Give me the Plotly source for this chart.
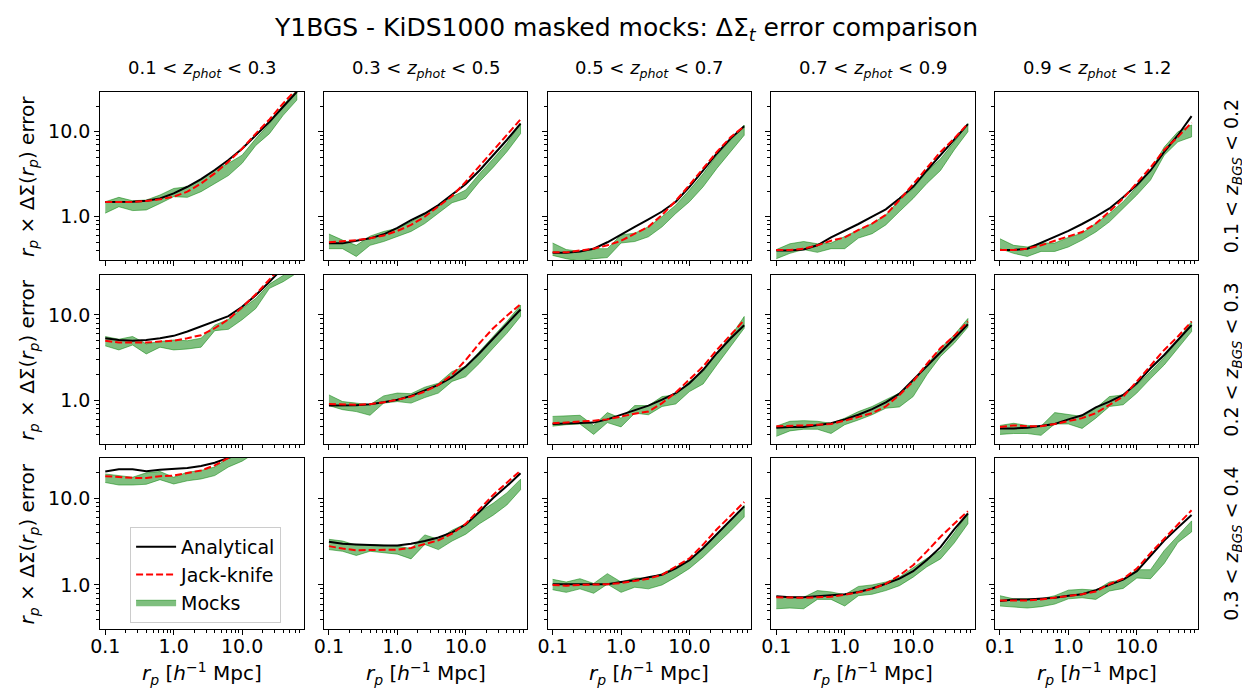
import plotly.graph_objects as go

rp = [0.1, 0.158, 0.251, 0.398, 0.631, 1.0, 1.585, 2.512, 3.981, 6.31, 10.0, 15.85, 25.12, 39.81, 63.1]

col_labels = ["0.1 < <i>z</i><sub><i>phot</i></sub> < 0.3", "0.3 < <i>z</i><sub><i>phot</i></sub> < 0.5",
              "0.5 < <i>z</i><sub><i>phot</i></sub> < 0.7", "0.7 < <i>z</i><sub><i>phot</i></sub> < 0.9",
              "0.9 < <i>z</i><sub><i>phot</i></sub> < 1.2"]
row_labels = ["0.1 < <i>z</i><sub><i>BGS</i></sub> < 0.2", "0.2 < <i>z</i><sub><i>BGS</i></sub> < 0.3",
              "0.3 < <i>z</i><sub><i>BGS</i></sub> < 0.4"]
x_ticks = [0.1, 1, 10]
x_tick_text = ["0.1", "1.0", "10.0"]
y_ticks = [1, 10]
y_tick_text = ["1.0", "10.0"]

# ---- row 1: 0.1 < z_BGS < 0.2 ----
ana_r1 = [
    [1.49, 1.49, 1.5, 1.54, 1.64, 1.88, 2.25, 2.77, 3.54, 4.65, 6.3, 9.1, 13.1, 19.7, 29.5],
    [0.485, 0.485, 0.52, 0.556, 0.62, 0.74, 0.91, 1.09, 1.37, 1.8, 2.42, 3.5, 5.3, 8.0, 12.5],
    [0.377, 0.377, 0.39, 0.42, 0.5, 0.61, 0.76, 0.93, 1.15, 1.5, 2.25, 3.5, 5.55, 8.3, 11.6],
    [0.40, 0.40, 0.41, 0.46, 0.57, 0.68, 0.82, 1.0, 1.22, 1.64, 2.25, 3.5, 5.3, 8.0, 12.3],
    [0.405, 0.405, 0.42, 0.49, 0.58, 0.68, 0.82, 1.0, 1.25, 1.69, 2.36, 3.5, 5.8, 9.1, 15.3],
]
jk_r1 = [
    [1.49, 1.48, 1.49, 1.53, 1.6, 1.72, 1.97, 2.46, 3.23, 4.44, 6.3, 9.5, 14.0, 21.6, 32.0],
    [0.50, 0.51, 0.53, 0.556, 0.6, 0.68, 0.8, 1.0, 1.31, 1.75, 2.58, 3.94, 6.1, 9.1, 14.0],
    [0.38, 0.38, 0.4, 0.42, 0.46, 0.52, 0.63, 0.76, 1.05, 1.54, 2.36, 3.7, 5.8, 8.6, 11.6],
    [0.405, 0.405, 0.42, 0.46, 0.52, 0.57, 0.7, 0.83, 1.05, 1.57, 2.42, 3.8, 5.8, 8.3, 12.5],
    [0.405, 0.405, 0.42, 0.46, 0.52, 0.58, 0.66, 0.83, 1.15, 1.64, 2.46, 3.8, 6.1, 8.7, 12.8],
]
mlo_r1 = [
    [1.1, 1.31, 1.18, 1.2, 1.43, 1.72, 1.69, 1.97, 2.46, 3.05, 4.25, 6.9, 9.5, 15.6, 23.6],
    [0.42, 0.42, 0.34, 0.46, 0.51, 0.58, 0.67, 0.83, 1.09, 1.46, 1.64, 2.58, 3.8, 5.8, 9.5],
    [0.35, 0.32, 0.30, 0.32, 0.33, 0.49, 0.51, 0.58, 0.76, 1.09, 1.5, 2.25, 3.7, 5.8, 9.1],
    [0.32, 0.37, 0.41, 0.38, 0.42, 0.42, 0.56, 0.63, 0.8, 1.15, 1.64, 2.46, 3.5, 6.1, 10.0],
    [0.42, 0.37, 0.34, 0.39, 0.39, 0.44, 0.53, 0.66, 0.87, 1.25, 1.8, 2.7, 5.3, 7.6, 8.7],
]
mhi_r1 = [
    [1.5, 1.69, 1.54, 1.57, 1.8, 2.15, 2.25, 2.7, 3.54, 4.25, 5.3, 8.3, 12.5, 20.6, 30.8],
    [0.625, 0.53, 0.46, 0.59, 0.67, 0.73, 0.87, 1.09, 1.37, 1.72, 2.06, 3.2, 4.8, 7.3, 12.5],
    [0.49, 0.41, 0.39, 0.42, 0.42, 0.61, 0.64, 0.76, 1.0, 1.37, 2.06, 3.2, 5.3, 8.0, 12.0],
    [0.41, 0.48, 0.51, 0.48, 0.49, 0.58, 0.7, 0.83, 1.05, 1.57, 2.15, 3.4, 4.8, 7.6, 12.5],
    [0.55, 0.46, 0.44, 0.49, 0.49, 0.57, 0.64, 0.83, 1.09, 1.5, 2.25, 3.5, 6.6, 10.0, 12.0],
]

# ---- row 2: 0.2 < z_BGS < 0.3 ----
ana_r2 = [
    [5.35, 5.1, 5.0, 5.1, 5.35, 5.7, 6.4, 7.3, 8.4, 9.7, 12.5, 17.0, 24.5, 36, 52],
    [0.87, 0.87, 0.88, 0.905, 0.95, 1.02, 1.13, 1.31, 1.52, 1.87, 2.5, 3.57, 5.3, 8.0, 11.6],
    [0.53, 0.535, 0.54, 0.55, 0.6, 0.68, 0.78, 0.87, 1.02, 1.22, 1.59, 2.28, 3.57, 5.3, 7.6],
    [0.48, 0.49, 0.49, 0.51, 0.54, 0.6, 0.68, 0.79, 0.95, 1.2, 1.74, 2.5, 3.6, 5.3, 7.8],
    [0.47, 0.47, 0.48, 0.5, 0.53, 0.6, 0.67, 0.83, 0.97, 1.16, 1.59, 2.38, 3.4, 5.1, 7.6],
]
jk_r2 = [
    [5.0, 4.75, 4.75, 4.75, 4.9, 5.0, 5.35, 5.8, 7.0, 8.9, 12.3, 17.5, 26, 40, 58],
    [0.91, 0.905, 0.89, 0.905, 0.95, 1.02, 1.11, 1.27, 1.52, 2.0, 2.98, 4.67, 7.0, 9.8, 13.4],
    [0.54, 0.55, 0.57, 0.58, 0.6, 0.65, 0.7, 0.74, 0.93, 1.24, 1.74, 2.5, 3.9, 5.8, 8.7],
    [0.5, 0.51, 0.51, 0.52, 0.53, 0.58, 0.64, 0.71, 0.85, 1.16, 1.67, 2.68, 4.1, 5.7, 8.4],
    [0.49, 0.51, 0.5, 0.5, 0.53, 0.57, 0.62, 0.71, 0.89, 1.11, 1.67, 2.54, 3.9, 5.6, 8.4],
]
mlo_r2 = [
    [4.35, 3.9, 4.45, 3.5, 4.2, 3.9, 4.0, 4.2, 6.55, 6.8, 8.8, 11.9, 20.5, 24.5, 31],
    [0.87, 0.78, 0.74, 0.67, 0.93, 0.97, 0.93, 1.08, 1.22, 1.67, 1.9, 2.73, 4.1, 6.1, 9.6],
    [0.5, 0.52, 0.53, 0.4, 0.55, 0.49, 0.71, 0.68, 0.85, 0.91, 1.27, 1.56, 2.6, 4.3, 7.0],
    [0.38, 0.44, 0.46, 0.46, 0.41, 0.52, 0.59, 0.68, 0.81, 0.84, 1.11, 2.0, 3.27, 4.67, 7.2],
    [0.4, 0.41, 0.41, 0.39, 0.53, 0.53, 0.47, 0.62, 0.85, 0.89, 1.22, 1.8, 2.6, 4.1, 6.4],
]
mhi_r2 = [
    [5.6, 5.2, 5.6, 4.6, 4.9, 5.1, 5.0, 5.35, 7.6, 8.9, 11.9, 15.6, 23, 29, 38],
    [1.16, 0.97, 0.93, 0.89, 1.13, 1.22, 1.2, 1.43, 1.59, 2.18, 2.5, 3.7, 5.6, 8.4, 13.0],
    [0.65, 0.66, 0.67, 0.51, 0.72, 0.62, 0.87, 0.87, 1.11, 1.16, 1.67, 2.18, 3.57, 5.6, 9.6],
    [0.5, 0.57, 0.58, 0.57, 0.54, 0.62, 0.74, 0.85, 1.02, 1.22, 1.67, 2.6, 4.1, 5.85, 9.1],
    [0.51, 0.54, 0.51, 0.5, 0.72, 0.68, 0.65, 0.81, 1.11, 1.16, 1.52, 2.18, 3.2, 5.1, 8.4],
]

# ---- row 3: 0.3 < z_BGS < 0.4 ----
ana_r3 = [
    [20.5, 21.7, 21.7, 20.7, 21.5, 22.1, 22.5, 23.7, 25.9, 29.5, 33, 40, 50, 63, 80],
    [3.16, 2.99, 2.94, 2.88, 2.86, 2.86, 2.99, 3.22, 3.53, 4.05, 5.0, 7.0, 10.1, 13.9, 19.6],
    [1.02, 1.02, 1.04, 1.02, 1.02, 1.08, 1.13, 1.23, 1.31, 1.55, 1.93, 2.67, 3.84, 5.6, 8.1],
    [0.74, 0.72, 0.72, 0.74, 0.75, 0.78, 0.83, 0.91, 1.03, 1.18, 1.44, 1.94, 2.73, 4.4, 6.7],
    [0.65, 0.68, 0.68, 0.69, 0.71, 0.75, 0.78, 0.87, 1.0, 1.15, 1.44, 2.17, 3.26, 4.6, 6.45],
]
jk_r3 = [
    [18.1, 17.6, 17.3, 17.3, 18.1, 18.4, 19.8, 21.1, 24.1, 29, 36, 45, 57, 72, 90],
    [2.81, 2.63, 2.52, 2.52, 2.52, 2.56, 2.68, 2.99, 3.28, 3.93, 5.1, 7.5, 11.0, 15.2, 21.0],
    [1.0, 0.98, 1.0, 1.0, 1.02, 1.05, 1.12, 1.18, 1.31, 1.62, 2.03, 2.93, 4.4, 6.3, 9.1],
    [0.72, 0.71, 0.71, 0.72, 0.73, 0.77, 0.82, 0.9, 1.03, 1.29, 1.69, 2.44, 3.6, 5.1, 7.1],
    [0.66, 0.66, 0.66, 0.68, 0.71, 0.74, 0.78, 0.84, 1.02, 1.18, 1.55, 2.33, 3.45, 5.0, 7.3],
]
mlo_r3 = [
    [15.3, 14.3, 14.3, 14.6, 16.5, 14.7, 16.0, 16.8, 18.4, 23.1, 27, 34, 44, 56, 72],
    [2.56, 2.45, 2.19, 2.45, 2.34, 2.27, 2.0, 2.94, 2.56, 3.22, 3.86, 5.1, 6.4, 8.4, 12.6],
    [0.88, 0.82, 0.9, 0.8, 1.02, 0.82, 0.94, 0.9, 1.0, 1.23, 1.55, 2.1, 2.93, 4.2, 6.1],
    [0.53, 0.54, 0.53, 0.68, 0.68, 0.57, 0.75, 0.78, 0.86, 0.98, 1.23, 1.62, 2.0, 3.05, 5.1],
    [0.57, 0.55, 0.54, 0.56, 0.6, 0.69, 0.71, 0.68, 0.85, 0.91, 1.2, 1.18, 1.77, 3.1, 4.1],
]
mhi_r3 = [
    [19.2, 18.4, 17.6, 19.8, 20.5, 17.6, 20.1, 21.1, 23.1, 29.5, 35, 45, 57, 72, 92],
    [3.37, 3.22, 2.88, 2.94, 2.88, 2.81, 2.63, 3.79, 3.37, 4.3, 5.1, 7.0, 8.8, 11.6, 16.7],
    [1.16, 1.08, 1.18, 1.04, 1.35, 1.08, 1.2, 1.2, 1.35, 1.62, 1.94, 2.67, 3.84, 5.5, 8.3],
    [0.73, 0.73, 0.72, 0.86, 0.83, 0.77, 0.96, 1.0, 1.08, 1.23, 1.57, 2.03, 2.5, 4.0, 6.8],
    [0.75, 0.69, 0.69, 0.69, 0.75, 0.87, 0.89, 0.87, 1.08, 1.15, 1.5, 1.5, 2.5, 3.7, 5.5],
]

ana_rows = [ana_r1, ana_r2, ana_r3]
jk_rows = [jk_r1, jk_r2, jk_r3]
mlo_rows = [mlo_r1, mlo_r2, mlo_r3]
mhi_rows = [mhi_r1, mhi_r2, mhi_r3]

# page body has an 8px margin: figure occupies window pixels 8..1250 x 8..700
OFF = 8
XSHIFT = 4          # small extra horizontal correction
W, H = 1250 - OFF, 700 - OFF
FONT = "DejaVu Sans"
col_left = [95, 320.5, 546, 771.5, 997]   # window pixels
col_w = 205
row_top = [92, 275, 458]
row_bot = [260, 444, 629]


def px(xw):
    return (xw - OFF - XSHIFT) / W


def py(yw):
    return 1 - (yw - OFF) / H


x_minor = [v * d for d in (0.1, 1, 10) for v in range(2, 10)]
y_minor = [v * d for d in (0.1, 1, 10) for v in range(2, 10)] + [20, 30]
y_minor = [v for v in y_minor if 0.3 <= v <= 30]

fig = go.Figure()
layout = dict()
idx = 0
for r in range(3):
    for c in range(5):
        idx += 1
        xa = "x" if idx == 1 else f"x{idx}"
        ya = "y" if idx == 1 else f"y{idx}"
        first = (r == 2 and c == 0)
        lo = mlo_rows[r][c]
        hi = mhi_rows[r][c]
        fig.add_trace(go.Scatter(
            x=rp + rp[::-1], y=hi + lo[::-1], fill="toself",
            fillcolor="rgba(0,128,0,0.5)", line=dict(color="rgba(0,128,0,0.5)", width=1),
            mode="lines", name="Mocks", showlegend=first, legendrank=3,
            xaxis=xa, yaxis=ya, hoverinfo="skip"))
        fig.add_trace(go.Scatter(
            x=rp, y=ana_rows[r][c], mode="lines", line=dict(color="black", width=2),
            name="Analytical", showlegend=first, legendrank=1, xaxis=xa, yaxis=ya))
        fig.add_trace(go.Scatter(
            x=rp, y=jk_rows[r][c], mode="lines",
            line=dict(color="red", width=2, dash="7px,3px"),
            name="Jack-knife", showlegend=first, legendrank=2, xaxis=xa, yaxis=ya))

        xkey = "xaxis" if idx == 1 else f"xaxis{idx}"
        ykey = "yaxis" if idx == 1 else f"yaxis{idx}"
        layout[xkey] = dict(
            type="log", range=[-1.072, 1.9],
            domain=[px(col_left[c]), px(col_left[c] + col_w)],
            anchor=ya, showline=True, mirror=True, linecolor="black", linewidth=1.2,
            showgrid=False, zeroline=False,
            tickmode="array", tickvals=x_ticks, ticktext=x_tick_text,
            showticklabels=(r == 2), ticklabelstandoff=-5,
            ticks="outside", ticklen=5, tickwidth=1, tickcolor="black",
            tickfont=dict(family=FONT, size=19, color="black"),
            minor=dict(tickmode="array", tickvals=x_minor, ticks="outside",
                       ticklen=3, tickwidth=1, tickcolor="black", showgrid=False),
        )
        layout[ykey] = dict(
            type="log", range=[-0.51, 1.468],
            domain=[py(row_bot[r]), py(row_top[r])],
            anchor=xa, showline=True, mirror=True, linecolor="black", linewidth=1.2,
            showgrid=False, zeroline=False,
            tickmode="array", tickvals=y_ticks, ticktext=y_tick_text,
            showticklabels=(c == 0),
            ticks="outside", ticklen=5, tickwidth=1, tickcolor="black",
            tickfont=dict(family=FONT, size=19, color="black"),
            minor=dict(tickmode="array", tickvals=y_minor, ticks="outside",
                       ticklen=3, tickwidth=1, tickcolor="black", showgrid=False),
        )

annotations = []
annotations.append(dict(
    text="Y1BGS - KiDS1000 masked mocks: ΔΣ<sub><i>t</i></sub> error comparison",
    x=px(625), y=py(29), xref="paper", yref="paper", showarrow=False,
    xanchor="center", yanchor="middle", font=dict(family=FONT, size=25, color="black")))
for c in range(5):
    cx = px(col_left[c] + col_w / 2)
    annotations.append(dict(text=col_labels[c], x=cx, y=py(69), xref="paper", yref="paper",
                            showarrow=False, xanchor="center", yanchor="middle",
                            font=dict(family=FONT, size=18, color="black")))
    annotations.append(dict(text="<i>r</i><sub><i>p</i></sub> [<i>h</i><sup>−1</sup> Mpc]",
                            x=cx, y=py(673), xref="paper", yref="paper",
                            showarrow=False, xanchor="center", yanchor="middle",
                            font=dict(family=FONT, size=20, color="black")))
for r in range(3):
    cy = py((row_top[r] + row_bot[r]) / 2)
    annotations.append(dict(text="<i>r</i><sub><i>p</i></sub> × ΔΣ(<i>r</i><sub><i>p</i></sub>) error",
                            x=px(22), y=cy, xref="paper", yref="paper", textangle=-90,
                            showarrow=False, xanchor="center", yanchor="middle",
                            font=dict(family=FONT, size=20, color="black")))
    annotations.append(dict(text=row_labels[r], x=px(1236), y=cy, xref="paper", yref="paper",
                            textangle=-90, showarrow=False, xanchor="center", yanchor="middle",
                            font=dict(family=FONT, size=19, color="black")))

fig.update_layout(
    **layout,
    width=W, height=H, autosize=False,
    margin=dict(l=0, r=0, t=0, b=0),
    paper_bgcolor="white", plot_bgcolor="white",
    annotations=annotations,
    showlegend=True,
    legend=dict(x=px(125), y=py(527), xanchor="left", yanchor="top",
                bgcolor="rgba(255,255,255,0.8)", bordercolor="#cccccc", borderwidth=1,
                font=dict(family=FONT, size=19, color="black"), itemwidth=40,
                tracegroupgap=0),
    font=dict(family=FONT, color="black"),
)
fig.write_html("out.html")
